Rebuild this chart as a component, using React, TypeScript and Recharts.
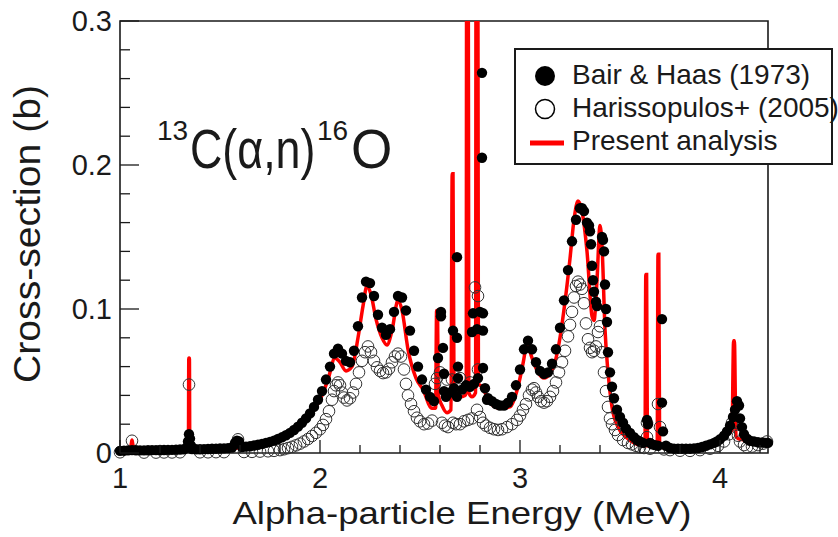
import React from "react";
import {
  ComposedChart,
  Line,
  Scatter,
  XAxis,
  YAxis,
  ReferenceArea,
  Legend,
} from "recharts";

// Bair & Haas (1973) - filled circles
const bairE = [
  1.0, 1.02, 1.04, 1.06, 1.08, 1.1, 1.12, 1.14, 1.16, 1.18, 1.2, 1.22, 1.24, 1.26, 1.28, 1.3, 1.32, 1.335, 1.34,
  1.345, 1.35, 1.355, 1.36, 1.38, 1.4, 1.42, 1.44, 1.46, 1.48, 1.5, 1.52, 1.54, 1.56, 1.575, 1.585, 1.595, 1.61,
  1.63, 1.65, 1.67, 1.69, 1.71, 1.73, 1.75, 1.77, 1.79, 1.81, 1.83, 1.85, 1.87, 1.89, 1.91, 1.93, 1.95, 1.97,
  1.99, 2.01, 2.03, 2.05, 2.07, 2.09, 2.11, 2.13, 2.15, 2.17, 2.19, 2.21, 2.23, 2.25, 2.27, 2.29, 2.31, 2.33,
  2.35, 2.37, 2.39, 2.41, 2.43, 2.45, 2.47, 2.49, 2.51, 2.53, 2.55, 2.57, 2.59, 2.605, 2.605, 2.615, 2.62, 2.62,
  2.63, 2.65, 2.665, 2.67, 2.685, 2.685, 2.69, 2.69, 2.685, 2.71, 2.73, 2.75, 2.76, 2.765, 2.77, 2.785, 2.79,
  2.8, 2.81, 2.81, 2.815, 2.815, 2.815, 2.825, 2.835, 2.84, 2.86, 2.88, 2.9, 2.92, 2.94, 2.96, 2.98, 3.0, 3.02,
  3.04, 3.06, 3.08, 3.1, 3.12, 3.14, 3.16, 3.18, 3.2, 3.22, 3.24, 3.26, 3.28, 3.3, 3.31, 3.32, 3.335, 3.345,
  3.35, 3.355, 3.36, 3.365, 3.37, 3.38, 3.385, 3.41, 3.415, 3.42, 3.425, 3.43, 3.435, 3.44, 3.45, 3.46, 3.47,
  3.485, 3.5, 3.515, 3.53, 3.55, 3.57, 3.585, 3.6, 3.615, 3.635, 3.64, 3.65, 3.66, 3.675, 3.69, 3.71, 3.71,
  3.715, 3.73, 3.75, 3.77, 3.79, 3.81, 3.83, 3.85, 3.87, 3.89, 3.91, 3.93, 3.95, 3.97, 3.985, 4.0, 4.02, 4.035,
  4.05, 4.065, 4.075, 4.085, 4.095, 4.1, 4.11, 4.12, 4.135, 4.15, 4.17, 4.19, 4.21, 4.23, 4.24,
];
const bairXS = [
  0.0015, 0.0016, 0.0018, 0.002, 0.0019, 0.0018, 0.0018, 0.0019, 0.002, 0.002, 0.0021, 0.0021, 0.0022, 0.0022,
  0.0023, 0.0024, 0.0026, 0.004, 0.008, 0.013, 0.01, 0.005, 0.0028, 0.0026, 0.0026, 0.0027, 0.0028, 0.0029,
  0.003, 0.0031, 0.0032, 0.0034, 0.0038, 0.007, 0.0085, 0.008, 0.0042, 0.0044, 0.0047, 0.0052, 0.0057, 0.0063,
  0.007, 0.0077, 0.0086, 0.0097, 0.0109, 0.0123, 0.014, 0.016, 0.0183, 0.021, 0.024, 0.0275, 0.032, 0.037,
  0.043, 0.051, 0.06, 0.069, 0.0725, 0.069, 0.064, 0.063, 0.071, 0.088, 0.108, 0.119, 0.118, 0.109, 0.096,
  0.087, 0.082, 0.086, 0.098, 0.109, 0.108, 0.099, 0.085, 0.071, 0.06, 0.051, 0.044, 0.039, 0.036, 0.066,
  0.098, 0.095, 0.073, 0.055, 0.043, 0.039, 0.042, 0.085, 0.045, 0.136, 0.08, 0.06, 0.052, 0.039, 0.044,
  0.047, 0.046, 0.084, 0.097, 0.048, 0.086, 0.052, 0.098, 0.264, 0.205, 0.097, 0.085, 0.059, 0.045, 0.037,
  0.038, 0.036, 0.034, 0.033, 0.033, 0.035, 0.039, 0.047, 0.058, 0.072, 0.078, 0.072, 0.063, 0.057, 0.055,
  0.056, 0.062, 0.072, 0.087, 0.106, 0.127, 0.147, 0.162, 0.17, 0.17, 0.168, 0.16, 0.158, 0.154, 0.145, 0.13,
  0.12, 0.112, 0.105, 0.102, 0.15, 0.148, 0.14, 0.117, 0.1, 0.091, 0.07, 0.056, 0.046, 0.038, 0.03, 0.025,
  0.021, 0.017, 0.014, 0.011, 0.009, 0.008, 0.007, 0.023, 0.02, 0.007, 0.006, 0.0055, 0.005, 0.093, 0.035,
  0.015, 0.005, 0.0035, 0.003, 0.003, 0.003, 0.003, 0.003, 0.0032, 0.0035, 0.0042, 0.005, 0.006, 0.007,
  0.008, 0.0095, 0.012, 0.015, 0.019, 0.025, 0.03, 0.036, 0.033, 0.024, 0.018, 0.013, 0.01, 0.0085, 0.008,
  0.0075, 0.0072, 0.007, 0.007,
];

// Harissopulos+ (2005) - open circles
const harE = [
  1.0, 1.06, 1.12, 1.18, 1.22, 1.26, 1.3, 1.345, 1.4, 1.44, 1.48, 1.52, 1.59, 1.62, 1.66, 1.7, 1.74, 1.77, 1.8,
  1.82, 1.84, 1.86, 1.88, 1.9, 1.92, 1.94, 1.96, 1.98, 2.0, 2.015, 2.03, 2.045, 2.06, 2.07, 2.08, 2.09, 2.1,
  2.11, 2.12, 2.135, 2.15, 2.165, 2.18, 2.195, 2.21, 2.225, 2.24, 2.255, 2.27, 2.285, 2.3, 2.315, 2.33, 2.345,
  2.36, 2.375, 2.39, 2.405, 2.42, 2.43, 2.44, 2.455, 2.47, 2.485, 2.5, 2.52, 2.54, 2.56, 2.575, 2.585, 2.6,
  2.61, 2.625, 2.635, 2.64, 2.66, 2.665, 2.68, 2.7, 2.7, 2.72, 2.74, 2.75, 2.76, 2.775, 2.79, 2.79, 2.785, 2.8,
  2.815, 2.83, 2.85, 2.87, 2.89, 2.91, 2.935, 2.96, 2.985, 3.0, 3.015, 3.03, 3.045, 3.06, 3.07, 3.08, 3.09,
  3.105, 3.12, 3.135, 3.15, 3.165, 3.18, 3.195, 3.21, 3.225, 3.24, 3.25, 3.26, 3.27, 3.28, 3.29, 3.3, 3.31,
  3.32, 3.33, 3.34, 3.35, 3.36, 3.37, 3.38, 3.39, 3.4, 3.41, 3.42, 3.43, 3.44, 3.45, 3.46, 3.475, 3.49, 3.515,
  3.54, 3.56, 3.58, 3.6, 3.62, 3.635, 3.635, 3.65, 3.69, 3.7, 3.72, 3.75, 3.8, 3.85, 3.9, 3.95, 3.99, 4.02,
  4.045, 4.06, 4.075, 4.09, 4.1, 4.12, 4.135, 4.16, 4.19, 4.215, 4.235,
];
const harXS = [
  0.0005, 0.0085, 0.0003, 0.0003, 0.0004, 0.0004, 0.0005, 0.0475, 0.0005, 0.0005, 0.0006, 0.0006, 0.0095,
  0.0007, 0.0008, 0.001, 0.0012, 0.0015, 0.002, 0.0026, 0.0034, 0.0043, 0.0053, 0.0065, 0.008, 0.0097, 0.0118,
  0.014, 0.0165, 0.0195, 0.0235, 0.029, 0.037, 0.043, 0.047, 0.049, 0.047, 0.042, 0.0385, 0.0365, 0.038,
  0.042, 0.048, 0.056, 0.064, 0.07, 0.074, 0.07, 0.064, 0.0595, 0.057, 0.0555, 0.056, 0.0585, 0.063, 0.067,
  0.069, 0.067, 0.058, 0.048, 0.04, 0.034, 0.029, 0.0245, 0.022, 0.02, 0.0205, 0.0225, 0.048, 0.052, 0.056,
  0.021, 0.019, 0.051, 0.018, 0.051, 0.021, 0.02, 0.052, 0.02, 0.022, 0.023, 0.049, 0.024, 0.115, 0.109,
  0.058, 0.03, 0.025, 0.021, 0.019, 0.0175, 0.0165, 0.016, 0.0165, 0.018, 0.02, 0.023, 0.026, 0.03, 0.034,
  0.04, 0.044, 0.045, 0.042, 0.039, 0.036, 0.035, 0.036, 0.039, 0.043, 0.049, 0.056, 0.063, 0.071, 0.081,
  0.089, 0.098, 0.108, 0.116, 0.119, 0.117, 0.114, 0.104, 0.09, 0.079, 0.073, 0.07, 0.071, 0.074, 0.084,
  0.088, 0.07, 0.056, 0.043, 0.032, 0.024, 0.02, 0.016, 0.0125, 0.009, 0.007, 0.006, 0.005, 0.004, 0.0035,
  0.021, 0.011, 0.003, 0.034, 0.018, 0.0025, 0.002, 0.0016, 0.0015, 0.002, 0.003, 0.005, 0.008, 0.013, 0.021,
  0.021, 0.012, 0.008, 0.0055, 0.004, 0.0045, 0.0055, 0.0065, 0.008,
];

// Present analysis - red curve
const fitE = [
  1.0, 1.05, 1.056, 1.06, 1.064, 1.07, 1.2, 1.3, 1.342, 1.344, 1.347, 1.349, 1.45, 1.55, 1.65, 1.72, 1.78,
  1.84, 1.9, 1.95, 2.0, 2.04, 2.075, 2.1, 2.13, 2.16, 2.19, 2.215, 2.235, 2.255, 2.28, 2.31, 2.335, 2.36, 2.39,
  2.41, 2.44, 2.48, 2.515, 2.56, 2.578, 2.583, 2.587, 2.592, 2.61, 2.635, 2.655, 2.661, 2.665, 2.67, 2.7,
  2.725, 2.731, 2.734, 2.74, 2.744, 2.76, 2.778, 2.781, 2.788, 2.792, 2.81, 2.85, 2.9, 2.95, 2.99, 3.015,
  3.035, 3.06, 3.09, 3.12, 3.15, 3.175, 3.2, 3.225, 3.25, 3.27, 3.29, 3.31, 3.335, 3.36, 3.37, 3.385, 3.4,
  3.41, 3.425, 3.44, 3.46, 3.49, 3.535, 3.585, 3.625, 3.629, 3.633, 3.637, 3.66, 3.686, 3.69, 3.694, 3.698,
  3.72, 3.8, 3.885, 3.95, 4.015, 4.06, 4.068, 4.072, 4.08, 4.1, 4.135, 4.24,
];
const fitXS = [
  0.001, 0.0012, 0.006, 0.009, 0.006, 0.0013, 0.0015, 0.0018, 0.002, 0.066, 0.066, 0.0022, 0.0025, 0.003,
  0.0045, 0.0062, 0.0085, 0.012, 0.018, 0.026, 0.037, 0.051, 0.066, 0.063, 0.057, 0.06, 0.08, 0.102, 0.116,
  0.11, 0.093, 0.08, 0.075, 0.085, 0.106, 0.099, 0.072, 0.052, 0.044, 0.031, 0.031, 0.099, 0.099, 0.04, 0.033,
  0.028, 0.03, 0.194, 0.194, 0.042, 0.039, 0.04, 0.042, 0.5, 0.5, 0.042, 0.039, 0.042, 0.5, 0.5, 0.048, 0.046,
  0.035, 0.031, 0.032, 0.046, 0.062, 0.075, 0.066, 0.056, 0.052, 0.055, 0.063, 0.08, 0.105, 0.135, 0.162,
  0.175, 0.168, 0.14, 0.095, 0.092, 0.12, 0.158, 0.144, 0.086, 0.056, 0.032, 0.018, 0.0105, 0.006, 0.005,
  0.124, 0.124, 0.005, 0.0048, 0.005, 0.138, 0.138, 0.005, 0.0035, 0.0022, 0.0022, 0.0055, 0.011, 0.016,
  0.078, 0.078, 0.0115, 0.0095, 0.009, 0.009,
];

const xTicks = [1, 1.2, 1.4, 1.6, 1.8, 2, 2.2, 2.4, 2.6, 2.8, 3, 3.2, 3.4, 3.6, 3.8, 4, 4.2];
const yTicks = [0, 0.02, 0.04, 0.06, 0.08, 0.1, 0.12, 0.14, 0.16, 0.18, 0.2, 0.22, 0.24, 0.26, 0.28, 0.3];

const bairData = bairE.map((e, i) => ({ x: e, y: bairXS[i] }));
const harData = harE.map((e, i) => ({ x: e, y: harXS[i] }));
const fitData = fitE.map((e, i) => ({ x: e, y: fitXS[i] }));

const FONT = "'Liberation Sans', Arial, Helvetica, sans-serif";
const INK = "#1a1a1a";

const XTick = (props: any) => {
  const { x, y, payload } = props;
  const v = payload.value;
  const major = Math.abs(v - Math.round(v)) < 1e-6;
  return (
    <g>
      <line x1={x} x2={x} y1={y} y2={y - (major ? 13 : 8)} stroke={INK} strokeWidth={1.3} />
      {major && (
        <text x={x} y={y + 35} textAnchor="middle" fontSize={29} fontFamily={FONT} fill={INK}>
          {Math.round(v)}
        </text>
      )}
    </g>
  );
};

const YTick = (props: any) => {
  const { x, y, payload } = props;
  const v = payload.value;
  const major = Math.abs(v * 10 - Math.round(v * 10)) < 1e-6;
  return (
    <g>
      <line x1={x} x2={x + (major ? 19 : 10)} y1={y} y2={y} stroke={INK} strokeWidth={1.3} />
      {major && (
        <text x={x - 8} y={y + 10} textAnchor="end" fontSize={29} fontFamily={FONT} fill={INK}>
          {v === 0 ? "0" : v.toFixed(1)}
        </text>
      )}
    </g>
  );
};

const FilledDot = (p: any) => <circle cx={p.cx} cy={p.cy} r={5.2} fill="#000" />;
const OpenDot = (p: any) => (
  <circle cx={p.cx} cy={p.cy} r={5.8} fill="none" stroke="#333" strokeWidth={1} />
);

// legend drawn as a framed box like the original figure
const LegendBox = () => (
  <svg width={319} height={117} style={{ overflow: "visible", display: "block" }}>
    <rect x={1} y={1} width={317} height={115} fill="#fff" stroke={INK} strokeWidth={2} />
    <circle cx={31} cy={28} r={10} fill="#000" />
    <circle cx={31} cy={61} r={9.5} fill="#fff" stroke="#000" strokeWidth={1.5} />
    <line x1={16} x2={50} y1={95} y2={95} stroke="#ff0000" strokeWidth={5} />
    <g fontFamily={FONT} fontSize={28} fill={INK}>
      <text x={58} y={36}>Bair &amp; Haas (1973)</text>
      <text x={58} y={69}>Harissopulos+ (2005)</text>
      <text x={58} y={102}>Present analysis</text>
    </g>
  </svg>
);

export default function App() {
  return (
    <div style={{ position: "absolute", left: 0, top: 0, width: 838, height: 537, background: "#fff" }}>
      <ComposedChart width={838} height={537} margin={{ top: 21, right: 70, left: 0, bottom: 0 }}>
        <XAxis
          dataKey="x"
          type="number"
          domain={[1, 4.24]}
          ticks={xTicks}
          interval={0}
          tick={<XTick />}
          tickLine={false}
          tickSize={0}
          tickMargin={0}
          axisLine={false}
          height={84}
        />
        <YAxis
          yAxisId="fit"
          dataKey="y"
          type="number"
          domain={[0, 0.3]}
          allowDataOverflow
          ticks={yTicks}
          interval={0}
          tick={<YTick />}
          tickLine={false}
          tickSize={0}
          tickMargin={0}
          axisLine={false}
          width={120}
        />
        <YAxis yAxisId="pts" dataKey="y" type="number" domain={[0, 0.3]} hide />
        <Scatter
          name="Harissopulos+ (2005)"
          data={harData}
          yAxisId="pts"
          shape={<OpenDot />}
          isAnimationActive={false}
        />
        <Scatter
          name="Bair & Haas (1973)"
          data={bairData}
          yAxisId="pts"
          shape={<FilledDot />}
          isAnimationActive={false}
        />
        <Line
          name="Present analysis"
          data={fitData}
          yAxisId="fit"
          dataKey="y"
          type="monotone"
          stroke="#ff0000"
          strokeWidth={3.5}
          dot={false}
          isAnimationActive={false}
        />
        <ReferenceArea
          yAxisId="fit"
          x1={1}
          x2={4.24}
          y1={0}
          y2={0.3}
          fill="none"
          stroke={INK}
          strokeWidth={1.6}
          ifOverflow="visible"
        />
        <Legend
          layout="vertical"
          verticalAlign="middle"
          align="center"
          content={<LegendBox />}
          wrapperStyle={{ left: 514, top: 48, width: 319, height: 117 }}
        />
      </ComposedChart>
      <svg
        width={838}
        height={537}
        style={{ position: "absolute", left: 0, top: 0, pointerEvents: "none" }}
      >
        <g fontFamily={FONT} fill={INK}>
          {/* reaction label, main letters drawn narrow as in the original */}
          <text x={157} y={140} fontSize={28}>13</text>
          <text transform="translate(190 168) scale(0.8 1)" fontSize={56}>C(α,n)</text>
          <text x={317} y={140} fontSize={28}>16</text>
          <text transform="translate(351 168) scale(0.95 1)" fontSize={56}>O</text>
          <text x={462} y={524} fontSize={32} textAnchor="middle" textLength={459} lengthAdjust="spacingAndGlyphs">
            Alpha-particle Energy (MeV)
          </text>
          <text
            x={40}
            y={234}
            fontSize={36}
            textAnchor="middle"
            transform="rotate(-90 40 234)"
            textLength={298}
            lengthAdjust="spacingAndGlyphs"
          >
            Cross-section (b)
          </text>
        </g>
      </svg>
    </div>
  );
}
